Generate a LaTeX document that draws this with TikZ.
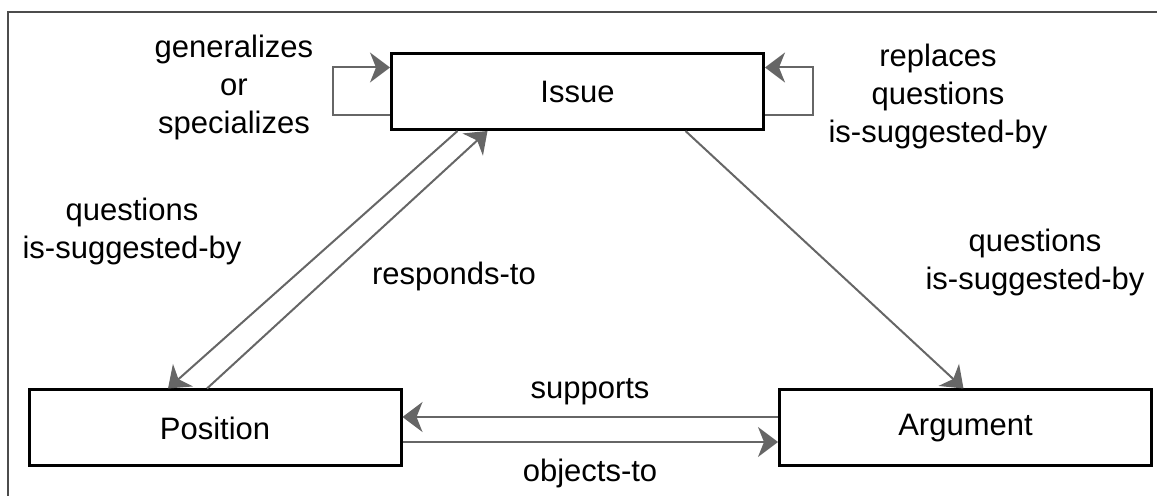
\documentclass[tikz,border=0pt]{standalone}
\usepackage{fontspec}
\setmainfont{Liberation Sans}
\usepackage{tikz}
\usetikzlibrary{
  arrows.meta,
  positioning,
  calc,
  }

\begin{document}
\begin{tikzpicture}[x=0.5pt, y=-0.5pt,
                    font=\fontsize{15.5pt}{19pt}\selectfont,
                    box/.style={rectangle, draw=black, line width=1.5pt,
                                minimum width=186pt, minimum height=38pt, inner sep=0pt},
                    link/.style={draw=black!60, line width=1pt,
                                 -{Stealth[length=10pt, width=15pt, inset=3pt]}},
                    lbl/.style={align=center, inner sep=0pt}]
    \useasboundingbox (0,0) rectangle (1157,496);
    \draw[black!70, line width=0.8pt] (8,496) |- (1157,12);

    \node[box] (issue) at (577.5,91.5) {Issue};
    \node[box] (position) at (215,428) {Position};
    \node[box] (argument) at (965.5,428) {Argument};

    % loops on issue
    \draw[link] ([yshift=-12pt]issue.west) -- ++(-57,0) |- ([yshift=12pt]issue.west);
    \draw[link] ([yshift=-12pt]issue.east) -- ++(48,0) |- ([yshift=12pt]issue.east);

    \draw[link] ([xshift=-60pt]issue.south) -- ([xshift=-23.5pt]position.north);
    \draw[link] ([xshift=-4pt]position.north) -- ([xshift=-45pt]issue.south);
    \draw[link] ([xshift=54pt]issue.south) -- ([xshift=-1pt]argument.north);
    \draw[link] ([yshift=5.5pt]argument.west) -- ([yshift=5.5pt]position.east);
    \draw[link] ([yshift=-7pt]position.east) -- ([yshift=-7pt]argument.west);

    \node[lbl] (gen) at (234,87) {generalizes\\or\\specializes};
    \node[lbl] (repl) at (938,96) {replaces\\questions\\is-suggested-by};
    \node[lbl] (qleft) at (132,231) {questions\\is-suggested-by};
    \node[lbl] (resp) at (454,276) {responds-to};
    \node[lbl] (qright) at (1035,262) {questions\\is-suggested-by};
    \node[lbl] (supp) at (590,392) {supports};
    \node[lbl] (obj) at (590,473) {objects-to};
\end{tikzpicture}
\end{document}
